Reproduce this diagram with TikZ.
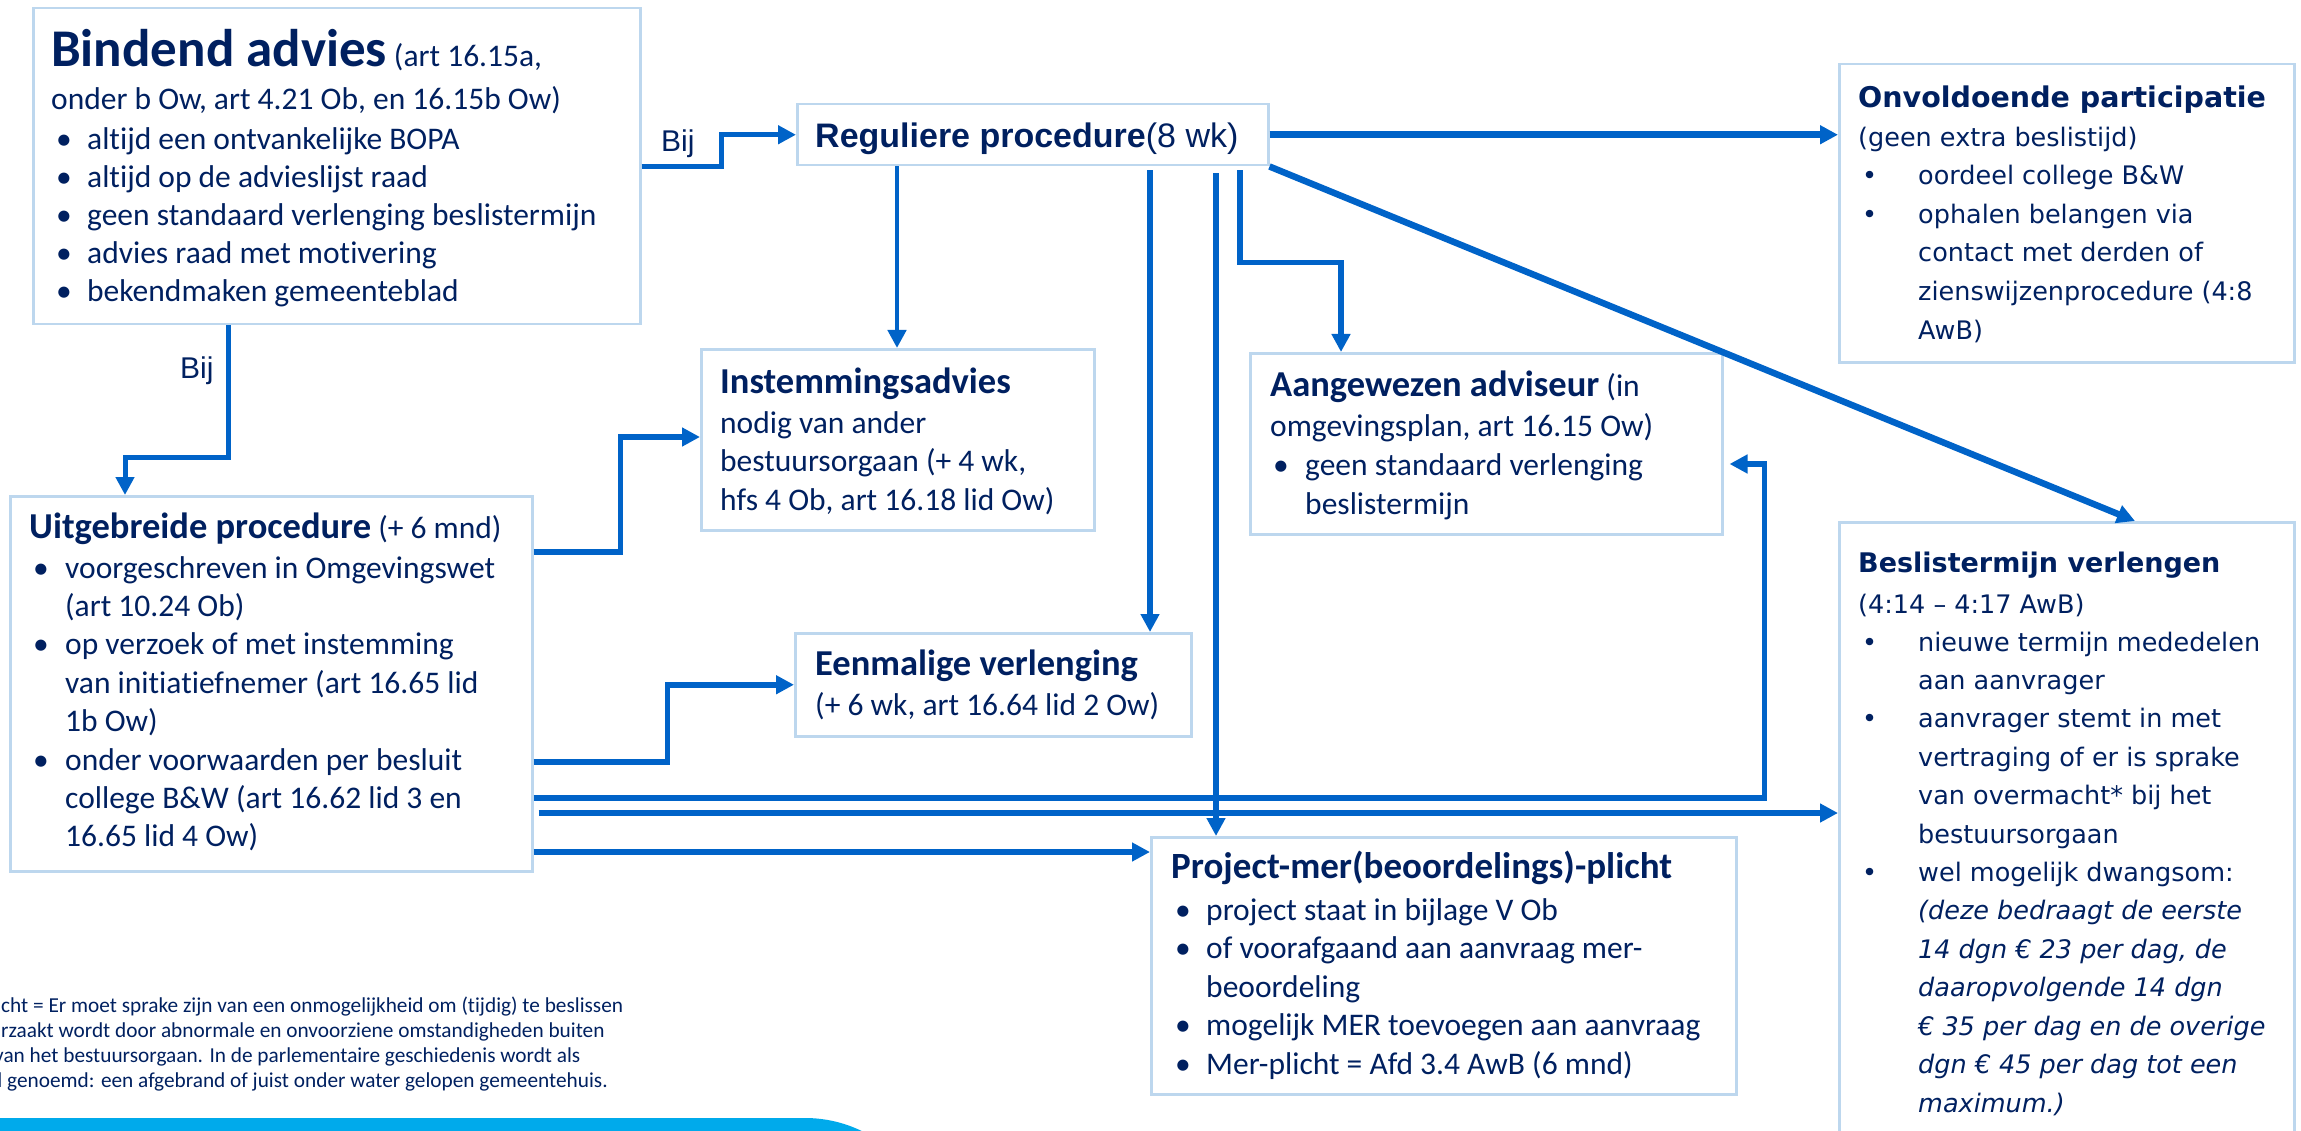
\documentclass[tikz,border=0pt]{standalone}
\usepackage{fontspec}
\setmainfont{Carlito}[Ligatures=NoCommon]
\newfontfamily\verdfont{DejaVu Sans}
\newfontfamily\arialfont{Liberation Sans}
\usetikzlibrary{arrows.meta,calc}
\definecolor{navy}{RGB}{0,32,96}
\definecolor{linkblue}{RGB}{0,99,200}
\definecolor{boxline}{RGB}{189,215,238}
\definecolor{barblue}{RGB}{0,170,235}
\newcommand{\bul}[1][31]{\llap{\makebox[#1pt][l]{\textbullet}}}
\newcommand{\fs}[1]{\fontsize{#1}{#1}\selectfont}
\newcommand{\txtlines}[6]{%
  \foreach \t [count=\i from 0] in {#6}
    \node[txt, font=#2] (#1\i) at (#3,#4+\i*#5) {\t};}
\tikzset{
  box/.style={draw=boxline, line width=2.5pt, anchor=north west, inner sep=0pt},
  txt/.style={text=navy, anchor=base west, inner sep=0pt},
  conn/.style={draw=linkblue, line width=5.5pt, -{Triangle[length=18pt,width=18pt]}},
}
\begin{document}
\begin{tikzpicture}[x=1pt, y=-1pt]
  \useasboundingbox (0,0) rectangle (2301,1131);
  \clip (0,0) rectangle (2301,1131);

  \node[box, minimum width=607pt, minimum height=316pt] (bindend) at (32,7) {};
  \node[box, minimum width=471pt, minimum height=61pt] (regulier) at (796,103) {};
  \node[box, minimum width=455pt, minimum height=298pt] (onvold) at (1838,63) {};
  \node[box, minimum width=393pt, minimum height=181pt] (instem) at (700,348) {};
  \node[box, minimum width=396pt, minimum height=103pt] (eenmal) at (794,632) {};
  \node[box, minimum width=472pt, minimum height=181pt] (aangew) at (1249,352) {};
  \node[box, minimum width=522pt, minimum height=375pt] (uitgeb) at (9,495) {};
  \node[box, minimum width=585pt, minimum height=257pt] (project) at (1150,836) {};
  \node[box, minimum width=455pt, minimum height=639pt] (beslis) at (1838,521) {};

  \node[txt, font=\fs{31.5}] (bndt) at (51,67) {{\fs{53}\bfseries Bindend advies} (art 16.15a,};
  \node[txt, font=\fs{31.5}] (bndo) at (51,110) {onder b Ow, art 4.21 Ob, en 16.15b Ow)};
  \txtlines{bnd}{\fs{31.5}}{87}{150}{38}{{\bul altijd een ontvankelijke BOPA},{\bul altijd op de advieslijst raad},
    {\bul geen standaard verlenging beslistermijn},{\bul advies raad met motivering},{\bul bekendmaken gemeenteblad}}

  \node[txt, font=\arialfont\fs{34}] (regt) at (815,148) {{\bfseries Reguliere procedure}(8 wk)};

  \node[txt, font=\verdfont\bfseries\fs{28.5}] (onvt) at (1858,108) {Onvoldoende participatie};
  \node[txt, font=\verdfont\fs{25.5}] (onvo) at (1858,147) {(geen extra beslistijd)};
  \txtlines{onv}{\verdfont\fs{25.5}}{1918}{185}{38.5}{{\bul[56]oordeel college B\&W},{\bul[56]ophalen belangen via},
    {contact met derden of},{zienswijzenprocedure (4:8},{AwB)}}

  \node[txt, font=\fs{36.5}\bfseries] (inst) at (720,393) {Instemmingsadvies};
  \txtlines{ins}{\fs{31.5}}{720}{433}{38.5}{{nodig van ander},{bestuursorgaan (+ 4 wk,},{hfs 4 Ob, art 16.18 lid Ow)}}

  \node[txt, font=\fs{36.5}\bfseries] (eent) at (815,675) {Eenmalige verlenging};
  \node[txt, font=\fs{31.5}] (eeno) at (815,715) {(+ 6 wk, art 16.64 lid 2 Ow)};

  \node[txt, font=\fs{31.5}] (aant) at (1270,396) {{\fs{36.5}\bfseries Aangewezen adviseur} (in};
  \node[txt, font=\fs{31.5}] (aano) at (1270,436) {omgevingsplan, art 16.15 Ow)};
  \txtlines{aan}{\fs{31.5}}{1305}{475}{39}{{\bul[32]geen standaard verlenging},{beslistermijn}}

  \node[txt, font=\fs{31.5}] (uitt) at (29,538) {{\fs{36.5}\bfseries Uitgebreide procedure} (+ 6 mnd)};
  \txtlines{uit}{\fs{31.5}}{65}{578}{38.4}{{\bul[32]voorgeschreven in Omgevingswet},{(art 10.24 Ob)},
    {\bul[32]op verzoek of met instemming},{van initiatiefnemer (art 16.65 lid},{1b Ow)},
    {\bul[32]onder voorwaarden per besluit},{college B\&W (art 16.62 lid 3 en},{16.65 lid 4 Ow)}}

  \node[txt, font=\fs{37}\bfseries] (prot) at (1171,878) {Project-mer(beoordelings)-plicht};
  \txtlines{pro}{\fs{31.5}}{1206}{920}{38.5}{{\bul project staat in bijlage V Ob},{\bul of voorafgaand aan aanvraag mer-},
    {beoordeling},{\bul mogelijk MER toevoegen aan aanvraag},{\bul Mer-plicht = Afd 3.4 AwB (6 mnd)}}

  \node[txt, font=\verdfont\bfseries\fs{27}] (best) at (1858,572) {Beslistermijn verlengen};
  \node[txt, font=\verdfont\fs{25.5}] (beso) at (1858,613) {(4:14 – 4:17 AwB)};
  \txtlines{bes}{\verdfont\fs{25.5}}{1918}{651}{38.42}{{\bul[56]nieuwe termijn mededelen},{aan aanvrager},
    {\bul[56]aanvrager stemt in met},{vertraging of er is sprake},{van overmacht* bij het},{bestuursorgaan},
    {\bul[56]wel mogelijk dwangsom:},{\itshape (deze bedraagt de eerste},{\itshape 14 dgn € 23 per dag, de},
    {\itshape daaropvolgende 14 dgn},{\itshape € 35 per dag en de overige},{\itshape dgn € 45 per dag tot een},
    {\itshape maximum.)}}

  \node[txt, font=\fs{21.3}] (fn0) at (1,1012) {cht = Er moet sprake zijn van een onmogelijkheid om (tijdig) te beslissen};
  \node[txt, font=\fs{21.3}] (fn1) at (1,1037) {rzaakt wordt door abnormale en onvoorziene omstandigheden buiten};
  \node[txt, font=\fs{21.3}] (fn2) at (-6,1062) {van het bestuursorgaan. In de parlementaire geschiedenis wordt als};
  \node[txt, font=\fs{21.3}] (fn3) at (-9,1087) {d genoemd: een afgebrand of juist onder water gelopen gemeentehuis.};

  \node[txt, font=\arialfont\fs{30}] (bij1) at (661,152) {Bij};
  \node[txt, font=\arialfont\fs{30}] (bij2) at (180,378) {Bij};

  \draw[conn, line width=5pt] (bindend.east) -- ++(80,0) |- (regulier.west);
  \draw[conn, line width=5pt] ($(bindend.south west)+(196,0)$) -- ++(0,132) -| ($(uitgeb.north west)+(116,0)$);
  \draw[conn, line width=4.5pt] ($(regulier.south west)+(101,0)$) -- ($(instem.north west)+(197,0)$);
  \draw[conn] ($(regulier.south west)+(354,4)$) coordinate (c4) -- (c4 |- eenmal.north);
  \draw[conn] ($(regulier.south west)+(420,7)$) coordinate (c5) -- (c5 |- project.north);
  \draw[conn] ($(regulier.south west)+(444,4)$) -- ++(0,92) -| ($(aangew.north west)+(92,0)$);
  \draw[conn, line width=6.5pt] (regulier.east) -- (regulier.east -| onvold.west);
  \draw[conn, line width=6.5pt] (regulier.south east) -- ($(beslis.north west)+(297,0)$);
  \draw[conn] ($(uitgeb.north east)+(0,57)$) -- ++(87,0) |- ($(instem.north west)+(0,89)$);
  \draw[conn] ($(uitgeb.north east)+(0,267)$) -- ++(134,0) |- (eenmal.west);
  \draw[conn] ($(uitgeb.north east)+(0,303)$) -| ($(aangew.north east)+(41,112)$) -- ($(aangew.north east)+(6,112)$);
  \draw[conn] ($(uitgeb.north east)+(5,318)$) coordinate (c12) -- (c12 -| beslis.west);
  \draw[conn] ($(uitgeb.north east)+(0,357)$) coordinate (c13) -- (c13 -| project.west);

  \fill[barblue] (0,1300) -- (0,1118) [rounded corners=130pt] -- (935,1118) -- (935,1300) [sharp corners] -- cycle;
\end{tikzpicture}
\end{document}
